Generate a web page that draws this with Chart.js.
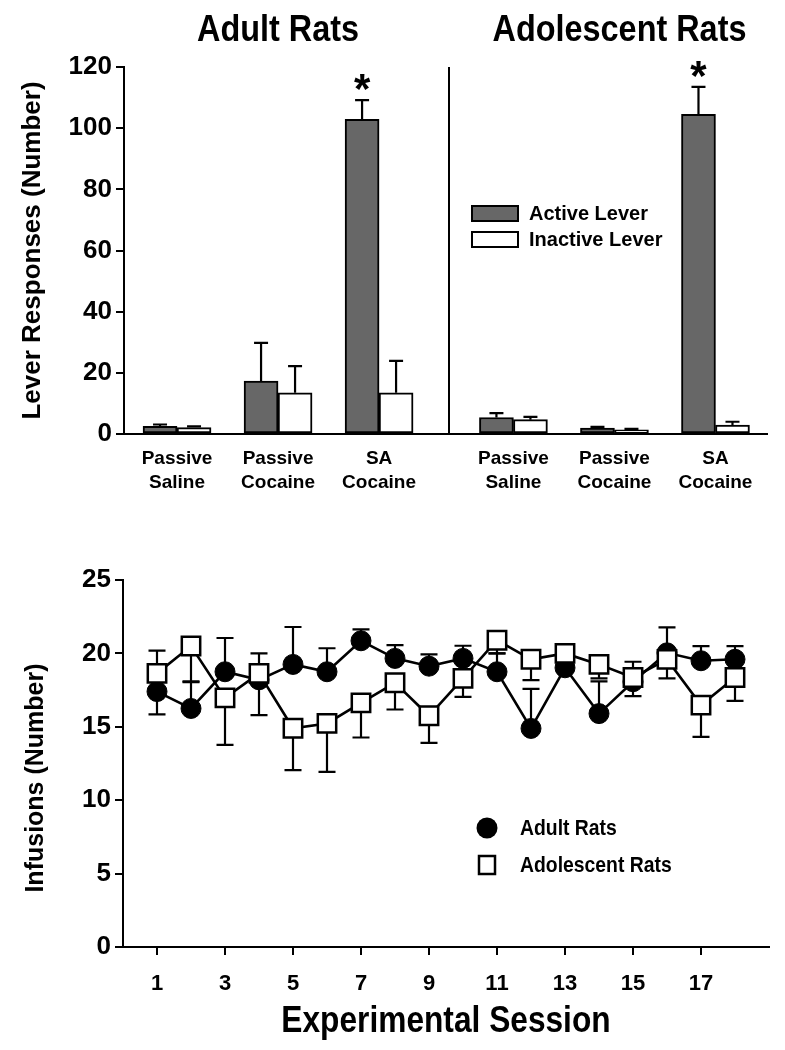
<!DOCTYPE html>
<html>
<head>
<meta charset="utf-8">
<script src="https://cdn.jsdelivr.net/npm/chart.js@4.4.1/dist/chart.umd.min.js"></script>
<style>
html,body{margin:0;padding:0;background:#fff;}
#wrap{position:relative;width:785px;height:1050px;overflow:hidden;}
canvas{position:absolute;left:0;}
#top{top:0;}
#bot{top:520px;}
</style>
</head>
<body>
<div id="wrap">
  <canvas id="top" width="785" height="520"></canvas>
  <canvas id="bot" width="785" height="530"></canvas>
</div>
<script>
// ---- top panel: lever responses ----
const groupLabels = [['Passive','Saline'],['Passive','Cocaine'],['SA','Cocaine'],['Passive','Saline'],['Passive','Cocaine'],['SA','Cocaine']];
const groupPos = [1, 2, 3, 4.33, 5.33, 6.33];
const activeLever = [2.5, 17.3, 102.9, 5.4, 1.9, 104.5];
const activeSem = [0.6, 12.5, 6.3, 1.4, 0.4, 9.0];
const inactiveLever = [2.1, 13.5, 13.5, 4.7, 1.4, 2.9];
const inactiveSem = [0.4, 8.7, 10.4, 0.9, 0.3, 1.1];
const significant = [false, false, true, false, false, true];
const leverTicks = [0, 20, 40, 60, 80, 100, 120];
const panelTitles = ['Adult Rats', 'Adolescent Rats'];
const panelTitlePos = [2, 5.38];
const dividerPos = 3.69;

// ---- bottom panel: infusions per session ----
const sessions = [1,2,3,4,5,6,7,8,9,10,11,12,13,14,15,16,17,18];
const adultInf = [17.4, 16.25, 18.75, 18.2, 19.25, 18.75, 20.86, 19.66, 19.13, 19.66, 18.75, 14.89, 19.02, 15.9, 18.07, 20.04, 19.5, 19.6];
// sign = direction the whisker is drawn (one-sided SEM)
const adultSem = [-1.55, 1.8, 2.3, -2.4, 2.55, 1.6, 0.78, 0.9, 0.8, 0.86, 1.25, 2.7, 0.4, 2.2, -0.98, 1.73, 1.0, 0.9];
const adolInf = [18.64, 20.5, 16.97, 18.64, 14.9, 15.23, 16.63, 18.0, 15.75, 18.3, 20.9, 19.6, 20.0, 19.25, 18.36, 19.59, 16.48, 18.36];
const adolSem = [1.55, -2.4, -3.2, 1.36, -2.85, -3.3, -2.36, -1.82, -1.85, -1.26, -0.9, -1.42, -0.3, -0.95, 1.07, -1.29, -2.16, -1.59];
const sessionTicks = [1,3,5,7,9,11,13,15,17];
const infTicks = [0, 5, 10, 15, 20, 25];

const SANS = '"Liberation Sans", Arial, Helvetica, sans-serif';
const GRAY = '#676767';

// text squeezed horizontally (the figure uses a condensed face)
function squeezed(ctx, text, x, y, sx, align, rot){
  ctx.save();
  ctx.translate(x, y);
  if(rot) ctx.rotate(rot);
  ctx.scale(sx, 1);
  ctx.textAlign = align || 'center';
  ctx.fillText(text, 0, 0);
  ctx.restore();
}

// whiskers with caps; bars get them on top, line markers cover them
function drawErrors(chart, capW){
  const ctx = chart.ctx, ys = chart.scales.y;
  ctx.save();
  ctx.strokeStyle = '#000'; ctx.lineWidth = 2.2; ctx.lineCap = 'butt';
  chart.data.datasets.forEach((ds, i)=>{
    const meta = chart.getDatasetMeta(i);
    ds.errors.forEach((e, j)=>{
      const el = meta.data[j];
      const v = ds.data[j].y;
      const y0 = ys.getPixelForValue(v), y1 = ys.getPixelForValue(v + e);
      ctx.beginPath();
      ctx.moveTo(el.x, y0); ctx.lineTo(el.x, y1);
      ctx.moveTo(el.x - capW/2, y1); ctx.lineTo(el.x + capW/2, y1);
      ctx.stroke();
    });
  });
  ctx.restore();
}

const topDeco = {
  id: 'topDeco',
  afterDatasetsDraw(chart){
    drawErrors(chart, 14);
    const ctx = chart.ctx, xs = chart.scales.x, ys = chart.scales.y, ca = chart.chartArea;
    ctx.save();
    // panel titles
    ctx.fillStyle = '#000'; ctx.textBaseline = 'middle';
    ctx.font = 'bold 36px ' + SANS;
    panelTitles.forEach((t, i)=> squeezed(ctx, t, xs.getPixelForValue(panelTitlePos[i]), 31, 0.9));
    // divider between age groups
    ctx.strokeStyle = '#000'; ctx.lineWidth = 2;
    const dx = Math.round(xs.getPixelForValue(dividerPos));
    ctx.beginPath(); ctx.moveTo(dx, ca.top); ctx.lineTo(dx, ca.bottom); ctx.stroke();
    // significance stars
    const meta = chart.getDatasetMeta(0);
    ctx.font = 'bold 42px ' + SANS; ctx.textBaseline = 'alphabetic'; ctx.textAlign = 'center';
    significant.forEach((s, i)=>{
      if(!s) return;
      const capY = ys.getPixelForValue(activeLever[i] + activeSem[i]);
      ctx.fillText('*', meta.data[i].x, capY - 21 + 24);
    });
    // legend
    const items = [[GRAY, 'Active Lever'], ['#fff', 'Inactive Lever']];
    ctx.font = 'bold 20px ' + SANS; ctx.textAlign = 'left'; ctx.textBaseline = 'middle';
    items.forEach((it, i)=>{
      const y = 206 + i*26;
      ctx.fillStyle = it[0]; ctx.fillRect(472, y, 46, 15);
      ctx.strokeRect(472, y, 46, 15);
      ctx.fillStyle = '#000'; ctx.fillText(it[1], 529, y + 8);
    });
    ctx.restore();
  }
};

new Chart(document.getElementById('top'), {
  type: 'bar',
  data: {
    datasets: [
      { label: 'Active Lever', data: groupPos.map((x, i)=>({x, y: activeLever[i]})), errors: activeSem,
        backgroundColor: GRAY, borderColor: '#000', borderWidth: 2, borderSkipped: false },
      { label: 'Inactive Lever', data: groupPos.map((x, i)=>({x, y: inactiveLever[i]})), errors: inactiveSem,
        backgroundColor: '#fff', borderColor: '#000', borderWidth: 2, borderSkipped: false }
    ]
  },
  options: {
    responsive: false, animation: false, events: [],
    barThickness: 34,
    layout: { padding: { top: 67, right: 18, left: 0, bottom: 0 } },
    plugins: { legend: { display: false }, tooltip: { enabled: false } },
    scales: {
      x: {
        type: 'linear', min: 0.475, max: 6.84, offset: false,
        afterBuildTicks: s => { s.ticks = groupPos.map(v => ({ value: v })); },
        afterFit: s => { s.height = 86; },
        grid: { display: false },
        border: { display: true, color: '#000', width: 2 },
        ticks: { color: '#000', font: { family: SANS, size: 19, weight: 'bold', lineHeight: 1.3 }, padding: 4,
                 maxRotation: 0, autoSkip: false, callback: (v, i) => groupLabels[i] }
      },
      y: {
        min: 0, max: 120,
        afterBuildTicks: s => { s.ticks = leverTicks.map(v => ({ value: v })); },
        afterFit: s => { s.width = 124; },
        grid: { drawOnChartArea: false, color: '#000', lineWidth: 2, tickLength: 8 },
        border: { display: true, color: '#000', width: 2 },
        ticks: { color: '#000', font: { family: SANS, size: 26, weight: 'bold' }, padding: 4 },
        title: { display: true, text: 'Lever Responses (Number)', color: '#000',
                 font: { family: SANS, size: 26, weight: 'bold', lineHeight: 1 }, padding: { top: 20, bottom: 0 } }
      }
    }
  },
  plugins: [topDeco]
});

const botDeco = {
  id: 'botDeco',
  beforeDatasetsDraw(chart){ drawErrors(chart, 17); },
  afterDatasetsDraw(chart){
    const ctx = chart.ctx, ca = chart.chartArea;
    ctx.save();
    ctx.fillStyle = '#000'; ctx.strokeStyle = '#000'; ctx.lineWidth = 2.5;
    // legend
    ctx.beginPath(); ctx.arc(487, 308, 10.5, 0, Math.PI*2); ctx.fill();
    ctx.fillStyle = '#fff'; ctx.fillRect(479, 336, 16, 18); ctx.strokeRect(479, 336, 16, 18);
    ctx.fillStyle = '#000'; ctx.font = 'bold 22px ' + SANS; ctx.textBaseline = 'middle';
    squeezed(ctx, 'Adult Rats', 520, 309, 0.88, 'left');
    squeezed(ctx, 'Adolescent Rats', 520, 346, 0.88, 'left');
    // axis titles
    ctx.font = 'bold 36px ' + SANS;
    squeezed(ctx, 'Experimental Session', (ca.left + ca.right) / 2, 502, 0.88, 'center');
    ctx.font = 'bold 25px ' + SANS;
    squeezed(ctx, 'Infusions (Number)', 36, 258, 1, 'center', -Math.PI / 2);
    ctx.restore();
  }
};

new Chart(document.getElementById('bot'), {
  type: 'line',
  data: {
    datasets: [
      { label: 'Adolescent Rats', data: sessions.map((x, i)=>({x, y: adolInf[i]})), errors: adolSem,
        borderColor: '#000', borderWidth: 2.6, tension: 0,
        pointStyle: 'rect', pointRadius: 13, pointBackgroundColor: '#fff', pointBorderColor: '#000', pointBorderWidth: 2.5 },
      { label: 'Adult Rats', data: sessions.map((x, i)=>({x, y: adultInf[i]})), errors: adultSem,
        borderColor: '#000', borderWidth: 2.6, tension: 0,
        pointStyle: 'circle', pointRadius: 10, pointBackgroundColor: '#000', pointBorderColor: '#000', pointBorderWidth: 1 }
    ]
  },
  options: {
    responsive: false, animation: false, events: [],
    layout: { padding: { top: 60, right: 16, left: 0, bottom: 0 } },
    plugins: { legend: { display: false }, tooltip: { enabled: false } },
    scales: {
      x: {
        type: 'linear', min: 0, max: 19,
        afterBuildTicks: s => { s.ticks = sessionTicks.map(v => ({ value: v })); },
        afterFit: s => { s.height = 103; },
        grid: { drawOnChartArea: false, color: '#000', lineWidth: 2, tickLength: 8 },
        border: { display: true, color: '#000', width: 2 },
        ticks: { color: '#000', font: { family: SANS, size: 22, weight: 'bold' }, padding: 16, maxRotation: 0, autoSkip: false }
      },
      y: {
        min: 0, max: 25,
        afterBuildTicks: s => { s.ticks = infTicks.map(v => ({ value: v })); },
        afterFit: s => { s.width = 123; },
        grid: { drawOnChartArea: false, color: '#000', lineWidth: 2, tickLength: 8 },
        border: { display: true, color: '#000', width: 2 },
        ticks: { color: '#000', font: { family: SANS, size: 26, weight: 'bold' }, padding: 4 }
      }
    }
  },
  plugins: [botDeco]
});
</script>
</body>
</html>
